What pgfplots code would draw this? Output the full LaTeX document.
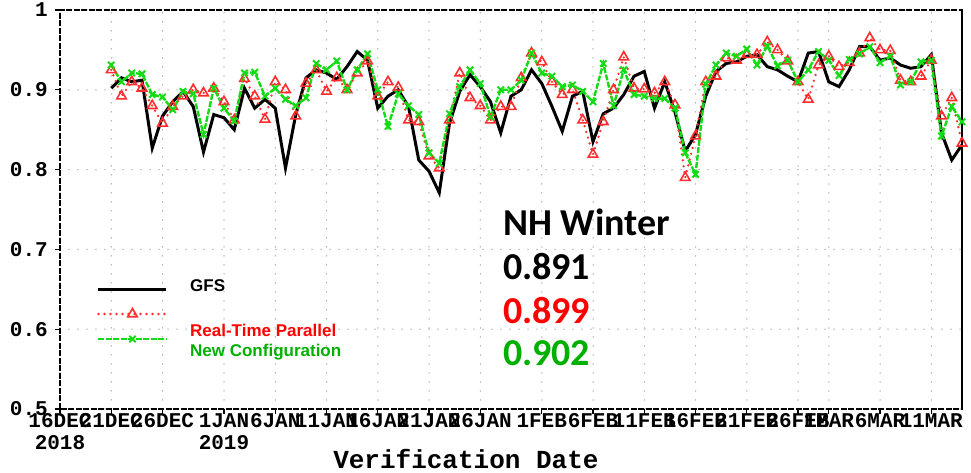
\documentclass[border=0pt]{standalone}
\usepackage{fontspec}
\setmainfont{Liberation Sans}
\newfontfamily\monof{Liberation Mono}
\newfontfamily\calib{Carlito}
\usepackage{pgfplots}
\usepackage{pgfplotstable}
\pgfplotsset{compat=1.18}
\definecolor{rtpred}{RGB}{255,45,45}
\definecolor{ncgreen}{RGB}{20,220,20}
\definecolor{txtgreen}{RGB}{0,176,0}
\definecolor{gridgray}{RGB}{165,165,165}

\pgfplotstableread{
d v
5 0.902
6 0.915
7 0.910
8 0.912
9 0.827
10 0.867
11 0.885
12 0.898
13 0.879
14 0.822
15 0.869
16 0.865
17 0.850
18 0.902
19 0.877
20 0.888
21 0.877
22 0.802
23 0.869
24 0.915
25 0.925
26 0.921
27 0.913
28 0.929
29 0.948
30 0.937
31 0.877
32 0.892
33 0.900
34 0.879
35 0.812
36 0.798
37 0.771
38 0.858
39 0.898
40 0.919
41 0.904
42 0.885
43 0.846
44 0.892
45 0.900
46 0.925
47 0.908
48 0.879
49 0.848
50 0.892
51 0.898
52 0.835
53 0.870
54 0.877
55 0.894
56 0.917
57 0.923
58 0.877
59 0.910
60 0.872
61 0.823
62 0.844
63 0.892
64 0.923
65 0.933
66 0.935
67 0.942
68 0.944
69 0.929
70 0.925
71 0.917
72 0.910
73 0.946
74 0.948
75 0.910
76 0.904
77 0.925
78 0.954
79 0.954
80 0.937
81 0.940
82 0.931
83 0.927
84 0.929
85 0.944
86 0.846
87 0.812
88 0.831
}\gfs

\pgfplotstableread{
d v
5 0.925
6 0.892
7 0.910
8 0.902
9 0.880
10 0.858
11 0.879
12 0.892
13 0.900
14 0.896
15 0.902
16 0.885
17 0.862
18 0.914
19 0.892
20 0.863
21 0.910
22 0.900
23 0.867
24 0.908
25 0.925
26 0.898
27 0.915
28 0.900
29 0.921
30 0.936
31 0.892
32 0.910
33 0.903
34 0.862
35 0.860
36 0.817
37 0.802
38 0.862
39 0.921
40 0.890
41 0.880
42 0.862
43 0.879
44 0.879
45 0.915
46 0.946
47 0.935
48 0.910
49 0.894
50 0.900
51 0.862
52 0.819
53 0.860
54 0.900
55 0.941
56 0.902
57 0.901
58 0.896
59 0.910
60 0.881
61 0.790
62 0.842
63 0.910
64 0.917
65 0.940
66 0.937
67 0.944
68 0.944
69 0.960
70 0.950
71 0.936
72 0.910
73 0.888
74 0.931
75 0.942
76 0.929
77 0.934
78 0.946
79 0.965
80 0.950
81 0.949
82 0.912
83 0.910
84 0.917
85 0.937
86 0.867
87 0.890
88 0.833
}\rtp

\pgfplotstableread{
d v
5 0.931
6 0.910
7 0.921
8 0.920
9 0.894
10 0.891
11 0.875
12 0.898
13 0.895
14 0.844
15 0.902
16 0.877
17 0.861
18 0.921
19 0.922
20 0.892
21 0.902
22 0.888
23 0.880
24 0.890
25 0.933
26 0.925
27 0.936
28 0.900
29 0.925
30 0.945
31 0.900
32 0.854
33 0.895
34 0.880
35 0.869
36 0.821
37 0.808
38 0.870
39 0.904
40 0.925
41 0.908
42 0.866
43 0.900
44 0.900
45 0.912
46 0.946
47 0.921
48 0.917
49 0.904
50 0.906
51 0.898
52 0.885
53 0.933
54 0.880
55 0.925
56 0.894
57 0.892
58 0.889
59 0.889
60 0.877
61 0.821
62 0.794
63 0.907
64 0.931
65 0.946
66 0.942
67 0.951
68 0.931
69 0.955
70 0.930
71 0.937
72 0.910
73 0.925
74 0.948
75 0.937
76 0.918
77 0.938
78 0.945
79 0.954
80 0.934
81 0.942
82 0.906
83 0.910
84 0.935
85 0.937
86 0.842
87 0.879
88 0.860
}\nc

\begin{document}
\begin{tikzpicture}
\begin{axis}[name=ax, scale only axis, width=902pt, height=399pt,
  xmin=0, xmax=88, ymin=0.5, ymax=1,
  xtick={0,5,10,16,21,26,31,36,41,47,52,57,62,67,72,75,80,85},
  xticklabels={16DEC\\2018,21DEC,26DEC,1JAN\\2019,6JAN,11JAN,16JAN,21JAN,26JAN,1FEB,6FEB,11FEB,16FEB,21FEB,26FEB,1MAR,6MAR,11MAR},
  ytick={0.5,0.6,0.7,0.8,0.9,1},
  yticklabels={0.5,0.6,0.7,0.8,0.9,1},
  tick pos=left, tick align=outside, major tick length=5pt,
  tick style={black, line width=1.2pt},
  grid=major,
  major grid style={gridgray, line width=1.5pt, line cap=round, dash pattern=on 0pt off 9pt},
  axis line style={black, line width=1.6pt, dash pattern=on 6pt off 1.5pt},
  ticklabel style={font=\monof\bfseries\fontsize{21}{22}\selectfont, inner sep=0pt},
  xticklabel style={align=center, yshift=1pt},
  yticklabel style={xshift=-7pt},
  legend image code/.code={\draw[mark repeat=2, mark phase=2, #1] plot coordinates {(0pt,0pt) (34pt,0pt) (68pt,0pt)};},
  legend style={at={(rel axis cs:0.041,0.332)}, anchor=north west, draw=none, fill=none,
    inner sep=0pt, outer sep=0pt, row sep=0pt,
    nodes={inner sep=0pt, minimum height=25pt}},
  clip=false,
]
\addplot[black, line width=3pt, no marks] table[x=d, y=v] {\gfs};
\addlegendentry{\mbox{}}
\addplot[rtpred, line width=2.6pt, line cap=round, dash pattern=on 0pt off 6pt,
  mark=triangle, mark size=5.5pt, mark options={solid, line width=1.6pt, draw=rtpred, fill=rtpred!25}]
  table[x=d, y=v] {\rtp};
\addlegendentry{\mbox{}}
\addplot[ncgreen, line width=2.4pt, dash pattern=on 6pt off 1.5pt,
  mark=x, mark size=4.5pt, mark options={solid, line width=2pt}]
  table[x=d, y=v] {\nc};
\addlegendentry{\mbox{}}
\draw[black, line width=2.6pt] (rel axis cs:1,0) -- (rel axis cs:1,1);
\node[anchor=west, inner sep=0pt, font=\bfseries\fontsize{17}{17}\selectfont, text=black] at (axis cs:12.68,0.654) {GFS};
\node[anchor=west, inner sep=0pt, font=\bfseries\fontsize{17}{17}\selectfont, text=red] at (axis cs:12.68,0.598) {Real-Time Parallel};
\node[anchor=west, inner sep=0pt, font=\bfseries\fontsize{17}{17}\selectfont, text=txtgreen] at (axis cs:12.68,0.571) {New Configuration};
\node[anchor=west, inner sep=0pt, font=\calib\bfseries\fontsize{38}{38}\selectfont, text=black] at (axis cs:43.2,0.734) {NH Winter};
\node[anchor=west, inner sep=0pt, font=\calib\bfseries\fontsize{38}{38}\selectfont, text=black] at (axis cs:43.2,0.679) {0.891};
\node[anchor=west, inner sep=0pt, font=\calib\bfseries\fontsize{38}{38}\selectfont, text=red] at (axis cs:43.2,0.623) {0.899};
\node[anchor=west, inner sep=0pt, font=\calib\bfseries\fontsize{38}{38}\selectfont, text=txtgreen] at (axis cs:43.2,0.570) {0.902};
\node[yshift=-50pt, inner sep=0pt, font=\monof\bfseries\fontsize{26}{26}\selectfont] at (rel axis cs:0.45,0) {Verification Date};
\end{axis}
\pgfresetboundingbox
\path ([xshift=-60pt,yshift=-64pt]ax.south west) rectangle ([xshift=9pt,yshift=10pt]ax.north east);
\end{tikzpicture}
\end{document}
